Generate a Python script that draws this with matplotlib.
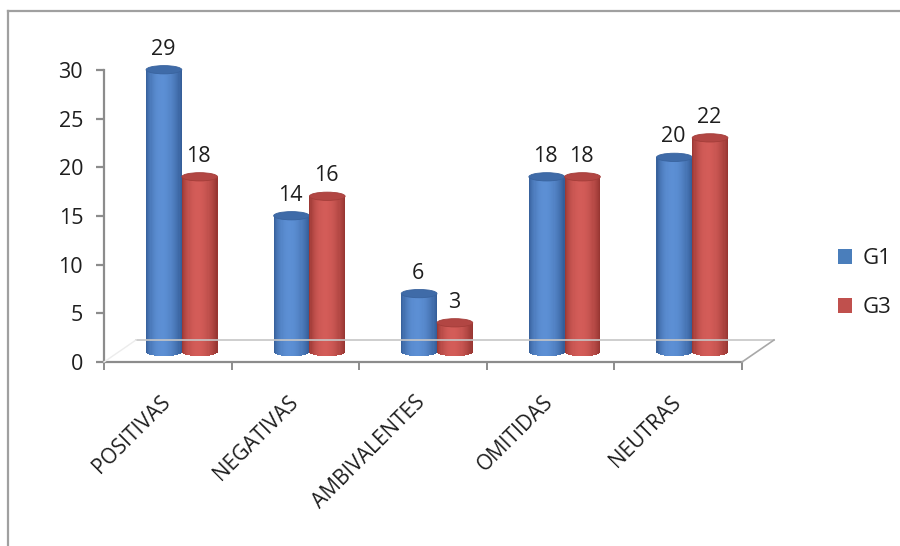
import numpy as np
import matplotlib
matplotlib.use('Agg')
import matplotlib.pyplot as plt
from matplotlib.patches import Ellipse, Patch
from matplotlib.lines import Line2D
from matplotlib.transforms import offset_copy

categorias = ['POSITIVAS', 'NEGATIVAS', 'AMBIVALENTES', 'OMITIDAS', 'NEUTRAS']
g1 = [29, 14, 6, 18, 20]
g3 = [18, 16, 3, 18, 22]
series = ['G1', 'G3']

plt.rcParams['font.family'] = ['Open Sans', 'DejaVu Sans']
txt = '#1e1e1e'
axis_grey = '#8c8c8c'

# (dark edge, highlight, top face, legend colour)
paleta = {
    'G1': ('#325a94', '#5c8fd4', '#3f6ba8', '#4a7ebb'),
    'G3': ('#93332f', '#d35c58', '#b24643', '#c0504d'),
}

fig = plt.figure(figsize=(9, 5.46), dpi=100, facecolor='white')
ax = fig.add_axes([104/900, 1 - 362/546, 638/900, 292/546])
ax.set_xlim(-0.5, len(categorias) - 0.5)
ax.set_ylim(0, 30)
ax.set_facecolor('none')

# 3d look: bars sit on a floor pushed back / up from the axis
depth = offset_copy(ax.transData, fig, x=14, y=10, units='dots')
floor = offset_copy(ax.transData, fig, x=32, y=22, units='dots')
lab_tr = offset_copy(ax.transData, fig, x=13, y=25, units='dots')

n = len(categorias)
ax.plot([-0.5, n - 0.5], [0, 0], color='#c6c6c6', lw=1.2, transform=floor, clip_on=False)
xa = ax.transData.transform((n - 0.5, 0))
xb = floor.transform((n - 0.5, 0))
fig.add_artist(Line2D([xa[0]/900, xb[0]/900], [xa[1]/546, xb[1]/546],
                      color='#a8a8a8', lw=1.2, transform=fig.transFigure))
la = ax.transData.transform((-0.5, 0))
lb = floor.transform((-0.5, 0))
fig.add_artist(Line2D([la[0]/900, lb[0]/900], [la[1]/546, lb[1]/546],
                      color='#ececec', lw=1.0, transform=fig.transFigure))

w = 0.28
eh = 0.85
N = 32

def mix(c1, c2, g):
    a = np.array(matplotlib.colors.to_rgb(c1))
    b = np.array(matplotlib.colors.to_rgb(c2))
    return a + (b - a) * g

def cilindro(xc, v, nombre):
    dark, light, top, _ = paleta[nombre]
    t = (np.arange(N) + 0.5) / N
    g = np.sin(np.pi * t ** 0.85) ** 0.8
    cols = [mix(dark, light, gi) for gi in g]
    xs = xc - w/2 + t * w
    u = 2 * t - 1
    bot = -(eh/2) * np.sqrt(1 - u**2)
    ax.bar(xs, v - bot, width=w/N * 1.08, bottom=bot, color=cols,
           linewidth=0, transform=depth, clip_on=False)
    ax.add_patch(Ellipse((xc, v), w, eh, transform=depth, facecolor=top,
                         edgecolor=mix(top, dark, 0.5), lw=0.6, clip_on=False))
    ax.text(xc, v, str(v), transform=lab_tr, ha='center', va='baseline',
            fontsize=15.5, color=txt)

x = np.arange(n)
for i in range(n):
    cilindro(x[i] - w/2, g1[i], 'G1')
    cilindro(x[i] + w/2, g3[i], 'G3')

# axes
for s in ['top', 'right']:
    ax.spines[s].set_visible(False)
for s in ['left', 'bottom']:
    ax.spines[s].set_color(axis_grey)
    ax.spines[s].set_linewidth(1.6)
ax.set_yticks(range(0, 31, 5))
ax.tick_params(axis='y', length=6, width=1.6, color=axis_grey, pad=9,
               labelsize=15.5, labelcolor=txt)
ax.set_xticks(np.arange(-0.5, n, 1.0))
ax.set_xticklabels([])
ax.tick_params(axis='x', length=6, width=1.4, color=axis_grey)

xl_tr = offset_copy(ax.transData, fig, x=-8, y=-30, units='dots')
for i, c in enumerate(categorias):
    ax.text(x[i], 0, c, transform=xl_tr, rotation=45, rotation_mode='anchor',
            ha='right', va='top', fontsize=15, color=txt)

handles = [Patch(facecolor=paleta[s][3], edgecolor='none') for s in series]
fig.legend(handles, series, loc='center left', bbox_to_anchor=(818/900, 1 - 283/546),
           frameon=False, fontsize=16, handlelength=0.65, handleheight=0.65,
           handletextpad=0.45, labelspacing=1.25, labelcolor=txt)

# chart frame (top and left edges only)
fig.add_artist(Line2D([8/900, 1], [1 - 11/546, 1 - 11/546], color='#a0a0a0',
                      lw=1.6, transform=fig.transFigure))
fig.add_artist(Line2D([8/900, 8/900], [0, 1 - 11/546], color='#a0a0a0',
                      lw=1.6, transform=fig.transFigure))

fig.savefig('out.png', dpi=100, facecolor='white')
